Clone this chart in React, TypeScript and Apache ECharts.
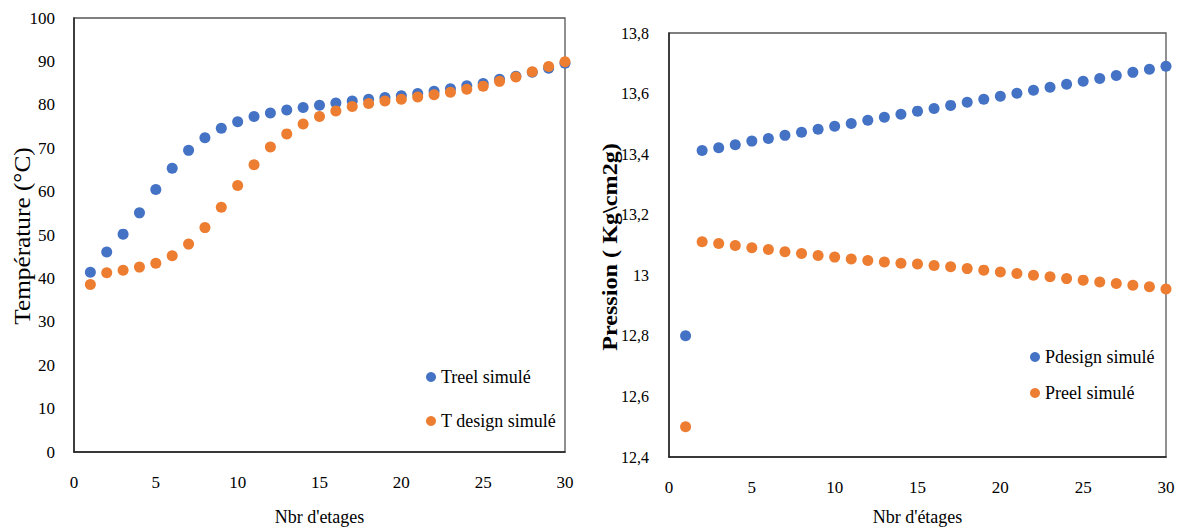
import React, { useEffect, useRef } from "react";
import * as echarts from "echarts";

const stages = [1, 2, 3, 4, 5, 6, 7, 8, 9, 10, 11, 12, 13, 14, 15, 16, 17, 18, 19, 20, 21, 22, 23, 24, 25, 26, 27, 28, 29, 30];

const treelSimule = [41.4, 46.1, 50.2, 55.1, 60.5, 65.4, 69.5, 72.4, 74.6, 76.1, 77.3, 78.1, 78.8, 79.4, 79.9, 80.4, 80.9, 81.3, 81.7, 82.1, 82.6, 83.1, 83.7, 84.4, 84.9, 85.9, 86.6, 87.5, 88.4, 89.6];
const tDesignSimule = [38.6, 41.3, 41.9, 42.6, 43.5, 45.2, 47.9, 51.7, 56.4, 61.4, 66.2, 70.3, 73.3, 75.6, 77.3, 78.6, 79.6, 80.3, 80.9, 81.3, 81.8, 82.3, 82.9, 83.6, 84.3, 85.4, 86.4, 87.6, 88.8, 89.9];

const pDesignSimule = [12.8, 13.412, 13.421, 13.431, 13.443, 13.452, 13.462, 13.472, 13.482, 13.492, 13.501, 13.512, 13.522, 13.532, 13.542, 13.551, 13.561, 13.571, 13.581, 13.591, 13.601, 13.611, 13.621, 13.631, 13.641, 13.65, 13.66, 13.67, 13.68, 13.69];
const pReelSimule = [12.5, 13.111, 13.105, 13.098, 13.091, 13.085, 13.078, 13.072, 13.065, 13.06, 13.054, 13.049, 13.044, 13.04, 13.037, 13.032, 13.028, 13.022, 13.017, 13.011, 13.006, 13.0, 12.995, 12.989, 12.984, 12.978, 12.973, 12.967, 12.962, 12.955];

const seriesNamesLeft = ["Treel simulé", "T design simulé"];
const seriesNamesRight = ["Pdesign simulé", "Preel simulé"];

const BLUE = "#4472C4";
const ORANGE = "#ED7D31";
const FONT = "Liberation Serif";

export default function App() {
  const ref = useRef<HTMLDivElement>(null);

  useEffect(() => {
    document.body.style.margin = "0";
    const chart = echarts.init(ref.current!, null, { renderer: "svg" });
    const pair = (ys: number[]) => stages.map((s, i) => [s, ys[i]]);
    const labelStyle = (size: number, margin: number) => ({
      fontFamily: FONT,
      fontSize: size,
      color: "#000",
      margin,
    });
    const xAxisBase = (gridIndex: number, name: string, nameGap: number) => ({
      type: "value",
      gridIndex,
      min: 0,
      max: 30,
      interval: 5,
      name,
      nameLocation: "middle",
      nameGap,
      nameTextStyle: { fontFamily: FONT, fontSize: 18, color: "#000" },
      axisLine: { show: true, lineStyle: { color: "#222", width: 1.5 } },
      axisTick: { show: false },
      splitLine: { show: false },
      axisLabel: labelStyle(17, 22),
    });
    const legendText = { fontFamily: FONT, fontSize: 18, color: "#000", lineHeight: 20 };
    const option: any = {
      animation: false,
      textStyle: { fontFamily: FONT },
      grid: [
        { left: 74, top: 18, width: 491, height: 434, show: true, borderColor: "#555", borderWidth: 1.3 },
        { left: 669, top: 33, width: 497, height: 424, show: true, borderColor: "#555", borderWidth: 1.3 },
      ],
      xAxis: [xAxisBase(0, "Nbr d'etages", 56), xAxisBase(1, "Nbr d'étages", 51)],
      yAxis: [
        {
          type: "value",
          gridIndex: 0,
          min: 0,
          max: 100,
          interval: 10,
          axisLine: { show: true, lineStyle: { color: "#222", width: 1.5 } },
          axisTick: { show: false },
          splitLine: { show: false },
          axisLabel: labelStyle(17, 19),
        },
        {
          type: "value",
          gridIndex: 1,
          min: 12.4,
          max: 13.8,
          interval: 0.2,
          axisLine: { show: true, lineStyle: { color: "#222", width: 1.5 } },
          axisTick: { show: false },
          splitLine: { show: false },
          axisLabel: {
            ...labelStyle(16, 20),
            formatter: (v: number) => String(+v.toFixed(1)).replace(".", ","),
          },
        },
      ],
      legend: [
        {
          data: seriesNamesLeft,
          orient: "vertical",
          left: 426,
          top: 367,
          padding: 0,
          itemGap: 24,
          itemWidth: 10,
          itemHeight: 10,
          icon: "circle",
          textStyle: legendText,
        },
        {
          data: seriesNamesRight,
          orient: "vertical",
          left: 1030,
          top: 347,
          padding: 0,
          itemGap: 16,
          itemWidth: 10,
          itemHeight: 10,
          icon: "circle",
          textStyle: legendText,
        },
      ],
      graphic: [
        {
          type: "text",
          x: 22,
          y: 236,
          rotation: Math.PI / 2,
          scaleX: 1.1,
          style: {
            text: "Température (°C)",
            font: `23px ${FONT}`,
            fill: "#000",
            textAlign: "center",
            textVerticalAlign: "middle",
            align: "center",
            verticalAlign: "middle",
          },
        },
        {
          type: "text",
          x: 609,
          y: 247,
          rotation: Math.PI / 2,
          scaleX: 1.1,
          style: {
            text: "Pression ( Kg\\cm2g)",
            font: `bold 22px ${FONT}`,
            fill: "#000",
            textAlign: "center",
            textVerticalAlign: "middle",
            align: "center",
            verticalAlign: "middle",
          },
        },
      ],
      series: [
        { name: seriesNamesLeft[0], type: "scatter", xAxisIndex: 0, yAxisIndex: 0, symbol: "circle", symbolSize: 11, itemStyle: { color: BLUE, opacity: 1 }, data: pair(treelSimule) },
        { name: seriesNamesLeft[1], type: "scatter", xAxisIndex: 0, yAxisIndex: 0, symbol: "circle", symbolSize: 11, itemStyle: { color: ORANGE, opacity: 1 }, data: pair(tDesignSimule) },
        { name: seriesNamesRight[0], type: "scatter", xAxisIndex: 1, yAxisIndex: 1, symbol: "circle", symbolSize: 11, itemStyle: { color: BLUE, opacity: 1 }, data: pair(pDesignSimule) },
        { name: seriesNamesRight[1], type: "scatter", xAxisIndex: 1, yAxisIndex: 1, symbol: "circle", symbolSize: 11, itemStyle: { color: ORANGE, opacity: 1 }, data: pair(pReelSimule) },
      ],
    };
    chart.setOption(option);
    return () => chart.dispose();
  }, []);

  return <div ref={ref} style={{ position: "absolute", left: 0, top: 0, width: 1180, height: 531 }} />;
}
